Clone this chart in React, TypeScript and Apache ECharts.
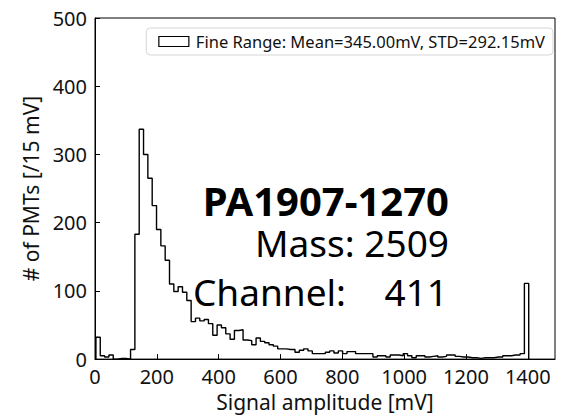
import React, { useEffect, useRef } from "react";
import * as echarts from "echarts";

const BIN_START = 3;
const BIN_WIDTH = 14;
const counts = [
  32, 5, 3, 6, 0, 1, 1, 0, 14, 183,
  337, 300, 265, 225, 190, 166, 145, 110, 99, 106,
  98, 86, 55, 60, 56, 58, 52, 35, 50, 46,
  37, 29, 42, 43, 28, 27, 21, 31, 26, 24,
  21, 19, 15, 15, 14, 14, 10, 13, 15, 12,
  8, 8, 8, 10, 12, 9, 12, 8, 11, 11,
  8, 8, 8, 8, 3, 5, 5, 3, 6, 6,
  5, 8, 5, 2, 5, 5, 3, 4, 5, 3,
  4, 6, 6, 4, 3, 3, 2, 2, 1, 2,
  2, 2, 3, 3, 5, 5, 6, 6, 8, 111,
];
const X_MAX = 1488;
const Y_MAX = 500;
const legendLabel = "Fine Range: Mean=345.00mV, STD=292.15mV";
const title = "PA1907-1270";
const massText = "Mass: 2509";
const channelText = "Channel:    411";

const FONT = "Noto Sans";

export default function App() {
  const ref = useRef<HTMLDivElement>(null);
  useEffect(() => {
    document.body.style.margin = "0";
    const chart = echarts.init(ref.current!, null, { renderer: "svg" });
    const pts: [number, number][] = [];
    pts.push([BIN_START, 0]);
    counts.forEach((c, i) => pts.push([BIN_START + i * BIN_WIDTH, c]));
    pts.push([BIN_START + counts.length * BIN_WIDTH, 0]);
    chart.setOption({
      animation: false,
      grid: {
        left: 95,
        right: 8,
        top: 18,
        bottom: 48,
        show: true,
        borderColor: "#000",
        borderWidth: 1,
      },
      legend: {
        right: 10,
        top: 28,
        padding: [5, 8, 5, 12],
        itemWidth: 30,
        itemHeight: 10,
        itemGap: 12,
        backgroundColor: "#fff",
        borderColor: "#d6d6d6",
        borderWidth: 1,
        borderRadius: 4,
        textStyle: { fontFamily: FONT, fontSize: 16.5, color: "#111", padding: [0, 0, 0, 2] },
        data: [
          {
            name: legendLabel,
            icon: "rect",
            itemStyle: { color: "#fff", borderColor: "#000", borderWidth: 1.2 },
            lineStyle: { opacity: 0, width: 0 },
          },
        ],
      },
      xAxis: {
        type: "value",
        min: 0,
        max: X_MAX,
        interval: 200,
        axisLine: { show: true, lineStyle: { color: "#000", width: 1 } },
        axisTick: { show: true, inside: true, length: 5, lineStyle: { color: "#000" } },
        splitLine: { show: false },
        axisLabel: {
          showMaxLabel: false,
          margin: 7,
          fontFamily: FONT,
          fontSize: 20,
          color: "#111",
          formatter: (v: number) => String(v),
        },
        name: "Signal amplitude [mV]",
        nameLocation: "middle",
        nameGap: 28,
        nameTextStyle: { fontFamily: FONT, fontSize: 21, color: "#111" },
      },
      yAxis: {
        type: "value",
        min: 0,
        max: Y_MAX,
        interval: 100,
        axisLine: { show: true, lineStyle: { color: "#000", width: 1 } },
        axisTick: { show: true, inside: true, length: 5, lineStyle: { color: "#000" } },
        splitLine: { show: false },
        axisLabel: {
          margin: 8,
          fontFamily: FONT,
          fontSize: 20,
          color: "#111",
          formatter: (v: number) => String(v),
        },
        name: "# of PMTs [/15 mV]",
        nameLocation: "middle",
        nameGap: 47,
        nameTextStyle: { fontFamily: FONT, fontSize: 21, color: "#111" },
      },
      series: [
        {
          name: legendLabel,
          type: "line",
          step: "end",
          symbol: "none",
          data: pts,
          lineStyle: { color: "#000", width: 1.4 },
          itemStyle: { color: "#fff", borderColor: "#000" },
        },
      ],
      graphic: [
        {
          type: "text",
          x: 449,
          y: 200,
          style: {
            text: title,
            fontFamily: FONT,
            fontSize: 40,
            fontWeight: "bold",
            fill: "#000",
            align: "right",
            verticalAlign: "middle",
          },
        },
        {
          type: "text",
          x: 449,
          y: 242,
          style: {
            text: massText,
            fontFamily: FONT,
            fontSize: 37,
            fill: "#000",
            align: "right",
            verticalAlign: "middle",
          },
        },
        {
          type: "text",
          x: 448,
          y: 291,
          style: {
            text: channelText,
            fontFamily: FONT,
            fontSize: 37,
            fill: "#000",
            align: "right",
            verticalAlign: "middle",
          },
        },
      ],
    });
    return () => chart.dispose();
  }, []);
  return <div ref={ref} style={{ width: 563, height: 417 }} />;
}
